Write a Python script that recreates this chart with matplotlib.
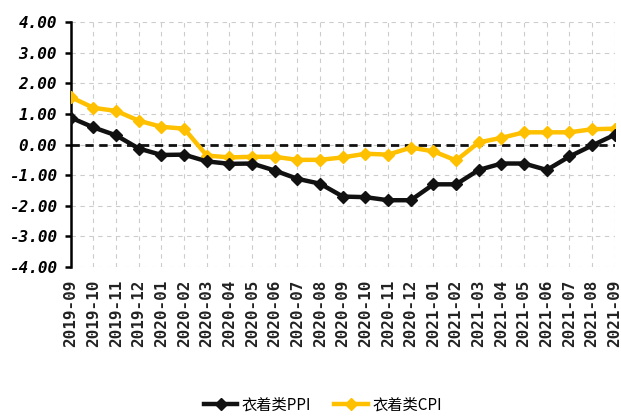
import numpy as np
import matplotlib.pyplot as plt

months = ["2019-09", "2019-10", "2019-11", "2019-12", "2020-01", "2020-02", "2020-03",
          "2020-04", "2020-05", "2020-06", "2020-07", "2020-08", "2020-09", "2020-10",
          "2020-11", "2020-12", "2021-01", "2021-02", "2021-03", "2021-04", "2021-05",
          "2021-06", "2021-07", "2021-08", "2021-09"]

ppi = [0.88, 0.56, 0.30, -0.13, -0.34, -0.33, -0.55, -0.63, -0.62, -0.85, -1.12, -1.28,
       -1.70, -1.72, -1.82, -1.82, -1.30, -1.30, -0.83, -0.62, -0.62, -0.83, -0.39,
       -0.03, 0.32]
cpi = [1.55, 1.20, 1.10, 0.78, 0.58, 0.52, -0.36, -0.42, -0.40, -0.40, -0.50, -0.50,
       -0.42, -0.30, -0.33, -0.10, -0.22, -0.52, 0.07, 0.22, 0.40, 0.40, 0.40, 0.50, 0.52]

plt.rcParams['font.family'] = ['Noto Sans CJK SC', 'DejaVu Sans']

fig = plt.figure(figsize=(6.21, 4.19), dpi=100)
ax = fig.add_axes([0.114, 0.363, 0.876, 0.584])

x = np.arange(len(months))
ax.plot(x, ppi, color='#111111', lw=3.2, marker='D', ms=6.5, label='衣着类PPI', zorder=4)
ax.plot(x, cpi, color='#FFC000', lw=3.2, marker='D', ms=6.5, label='衣着类CPI', zorder=3)
ax.axhline(0, color='#111111', lw=2, ls=(0, (3, 2)), zorder=2)

ax.set_xlim(0, len(months) - 1)
ax.set_ylim(-4, 4)
ax.set_yticks(np.arange(-4, 5, 1))
ax.set_yticklabels(['%.2f' % v for v in np.arange(-4, 5, 1)],
                   family='DejaVu Sans Mono', weight='bold', fontsize=11.5, style='italic')
ax.set_xticks(x)
ax.set_xticklabels(months, rotation=90, family='DejaVu Sans Mono', weight='bold',
                   fontsize=11.5, color='#222222')

ax.grid(True, color='#cccccc', ls=(0, (4, 4)), lw=0.8)
for side in ['top', 'right', 'bottom']:
    ax.spines[side].set_visible(False)
ax.spines['left'].set_linewidth(1.8)
ax.tick_params(axis='y', length=4, width=1.8, pad=6)
ax.tick_params(axis='x', length=0, pad=9)

fig.legend(loc='center', bbox_to_anchor=(0.52, 0.033), ncol=2, frameon=False,
           fontsize=11, handlelength=2.2, columnspacing=1.5, handletextpad=0.3)

fig.savefig('out.png', dpi=100)
